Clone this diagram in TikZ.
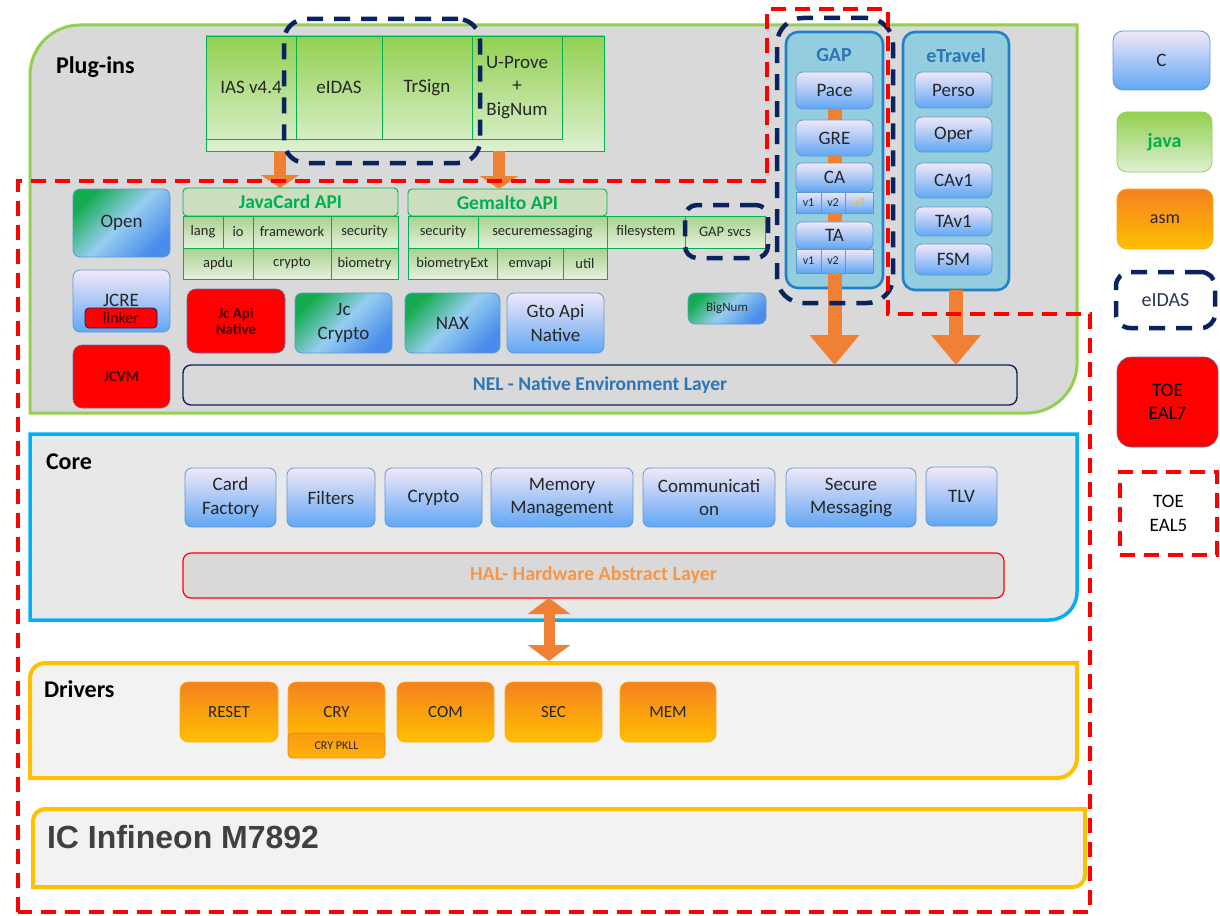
\documentclass[tikz,border=0pt]{standalone}
\usepackage{fontspec}
\setmainfont{Carlito}
\newfontfamily\arialf{Liberation Sans}
\usetikzlibrary{arrows.meta}
\definecolor{txt}{RGB}{38,38,38}
\definecolor{plugfill}{RGB}{217,217,217}
\definecolor{plugline}{RGB}{146,208,80}
\definecolor{corefill}{RGB}{232,232,232}
\definecolor{coreline}{RGB}{0,176,240}
\definecolor{drvfill}{RGB}{242,242,242}
\definecolor{drvline}{RGB}{255,192,0}
\definecolor{navy}{RGB}{10,35,95}
\definecolor{toered}{RGB}{255,0,0}
\definecolor{orA}{RGB}{240,128,52}
\definecolor{cTop}{RGB}{242,232,248}
\definecolor{cBot}{RGB}{96,166,244}
\definecolor{cLine}{RGB}{91,155,213}
\definecolor{gTop}{RGB}{146,208,80}
\definecolor{gBot}{RGB}{222,240,210}
\definecolor{gLine}{RGB}{0,176,80}
\definecolor{cellTop}{RGB}{169,209,142}
\definecolor{cellBot}{RGB}{228,241,220}
\definecolor{hdrFill}{RGB}{204,222,190}
\definecolor{aTop}{RGB}{245,128,32}
\definecolor{aBot}{RGB}{255,192,0}
\definecolor{dA}{RGB}{20,172,80}
\definecolor{dB}{RGB}{150,205,240}
\definecolor{dC}{RGB}{72,140,236}
\definecolor{gapFill}{RGB}{147,205,222}
\definecolor{gapLine}{RGB}{30,130,200}
\definecolor{tblue}{RGB}{46,117,182}
\definecolor{halor}{RGB}{247,150,70}
\definecolor{darkred}{RGB}{70,0,0}
\definecolor{redline}{RGB}{90,120,170}
\definecolor{icgray}{RGB}{64,64,64}
\definecolor{v3col}{RGB}{255,192,0}
\newcommand\fsz[2]{\fontsize{#1}{#2}\selectfont}
\newcommand\bx[7]{\node[#1, minimum width={#5-#3}, minimum height={#6-#4}] (#2) at ({(#3+#5)/2},{(#4+#6)/2}) {#7};}
\tikzset{
 every node/.style={inner sep=0pt, outer sep=0pt, align=center, text=txt, font=\fsz{19}{23.5}},
 cbox/.style={rounded corners=7pt, draw=cLine, line width=0.8pt, top color=cTop, bottom color=cBot},
 csq/.style={draw=cLine, line width=0.8pt, top color=cTop, bottom color=cBot},
 dbox/.style={rounded corners=7pt, draw=cLine, line width=0.8pt, top color=dA, bottom color=dC, middle color=dB, shading angle=45},
 rbox/.style={rounded corners=9pt, fill=toered, draw=redline, line width=0.6pt},
 abox/.style={rounded corners=8pt, top color=aTop, bottom color=aBot, draw=aBot!70!aTop, line width=0.6pt, font=\fsz{17}{20}},
 jcell/.style={draw=gLine, line width=0.9pt, top color=cellTop, bottom color=cellBot, font=\fsz{14.5}{17}},
 jhdr/.style={draw=gLine, line width=0.9pt, fill=hdrFill, rounded corners=4pt, text=gLine, font=\bfseries\fsz{19.5}{22}},
 pcell/.style={draw=gLine, line width=0.8pt},
 panel/.style={line width=3pt},
 inpanel/.style={rounded corners=12pt, fill=gapFill, draw=gapLine, line width=2.6pt},
 navydash/.style={draw=navy, line width=4.5pt, dash pattern=on 16pt off 11pt, rounded corners=22pt},
 toedash/.style={draw=toered, line width=3.5pt, dash pattern=on 15pt off 9pt},
 blkarrow/.style={draw=orA, line width=14pt, -{Triangle[width=48pt,length=30pt]}},
 smarrow/.style={draw=orA, line width=12pt, -{Triangle[width=38pt,length=13pt]}},
 dblarrow/.style={draw=orA, line width=11pt, {Triangle[width=42pt,length=16pt]}-{Triangle[width=42pt,length=16pt]}},
 orbar/.style={draw=orA, line width=14pt},
 plabel/.style={anchor=west, text=black, font=\bfseries\fsz{24}{26}},
 ptitle/.style={text=tblue, font=\bfseries\fsz{20}{22}},
 layer/.style={rounded corners=8pt, fill=plugfill},
}
\begin{document}
\begin{tikzpicture}[x=1pt,y=-1pt]
\useasboundingbox (0,0) rectangle (1220,915);
\fill[white] (0,0) rectangle (1220,915);

% ---------- panels ----------
\draw[panel, draw=plugline, fill=plugfill] (30,413) -- (30,75) .. controls (30,47.4) and (52.4,25) .. (80,25) -- (1077,25) -- (1077,363) .. controls (1077,390.6) and (1054.6,413) .. (1027,413) -- cycle;
\draw[panel, line width=3.5pt, draw=coreline, fill=corefill] (30,434) -- (1077,434) -- (1077,592) .. controls (1077,607.5) and (1064.5,620) .. (1049,620) -- (30,620) -- cycle;
\draw[panel, line width=4pt, draw=drvline, fill=drvfill] (30,678) .. controls (30,669.7) and (36.7,663) .. (45,663) -- (1077,663) -- (1077,758) .. controls (1077,769) and (1068,778) .. (1057,778) -- (30,778) -- cycle;
\draw[panel, line width=4pt, draw=drvline, fill=drvfill] (33,821) .. controls (33,814.4) and (38.4,809) .. (45,809) -- (1085,809) -- (1085,875) .. controls (1085,881.6) and (1079.6,887) .. (1073,887) -- (33,887) -- cycle;
\coordinate (drvtop) at (549,661);

\node[plabel] (lplug) at (56,67) {Plug-ins};
\node[plabel] (lcore) at (46,462) {Core};
\node[plabel] (ldrv) at (44,689) {Drivers};

% ---------- plug-in top box ----------
\bx{pcell, top color=gTop, bottom color=gBot}{tb}{206}{36}{604}{151}{}
\bx{pcell}{ias}{206}{36}{296}{139}{IAS v4.4}
\bx{pcell}{eidas}{296}{36}{382}{139}{eIDAS}
\bx{pcell}{trsign}{382}{36}{472}{139}{TrSign}
\bx{pcell}{uprove}{472}{36}{562}{139}{U-Prove\\+\\BigNum}

% ---------- JavaCard API ----------
\bx{jhdr}{jch}{183}{188}{398}{216}{JavaCard API}
\bx{jcell}{lang}{183}{216}{223}{248}{lang}
\bx{jcell}{io}{223}{216}{253}{248}{io}
\bx{jcell}{fw}{253}{216}{331}{248}{framework}
\bx{jcell}{jsec}{331}{216}{398}{248}{security}
\bx{jcell}{apdu}{183}{248}{253}{279}{apdu}
\bx{jcell}{jcry}{253}{248}{331}{279}{crypto}
\bx{jcell}{biom}{331}{248}{398}{279}{biometry}

% ---------- Gemalto API ----------
\bx{jhdr}{gh}{408}{189}{607}{216}{Gemalto API}
\bx{jcell}{gsec}{408}{216}{478}{248}{security}
\bx{jcell}{smsg}{478}{216}{607}{248}{securemessaging}
\bx{jcell}{fsys}{607}{216}{685}{248}{filesystem}
\bx{jcell}{gsvc}{685}{216}{765}{248}{GAP svcs}
\bx{jcell}{bioext}{408}{248}{497}{279}{biometryExt}
\bx{jcell}{emv}{497}{248}{563}{279}{emvapi}
\bx{jcell}{util}{563}{248}{607}{279}{util}

% ---------- left column and natives ----------
\bx{dbox}{open}{73}{189}{170}{257}{Open}
\bx{cbox}{jcre}{73}{270}{170}{332}{}
\node (jcrel) at (121,300) {JCRE};
\bx{rbox, rounded corners=4pt, draw=navy, line width=0.8pt, text=darkred, font=\fsz{16}{18}}{linker}{85}{308}{157}{328}{linker}
\bx{rbox, text=darkred, font=\bfseries\fsz{15}{17}}{jcvm}{73}{345}{170}{408}{JCVM}
\bx{rbox, text=darkred, font=\bfseries\fsz{15}{16}}{jcapin}{187}{289}{285}{353}{Jc Api\\Native}
\bx{dbox}{jccry}{295}{293}{392}{353}{Jc\\Crypto}
\bx{dbox}{nax}{405}{293}{500}{353}{NAX}
\bx{cbox}{gtoapi}{507}{293}{604}{353}{Gto Api\\Native}
\bx{dbox, font=\fsz{13}{15}}{bignum}{688}{293}{766}{324}{BigNum}
\bx{layer, draw=navy, line width=1.4pt, text=tblue, font=\bfseries\fsz{19.5}{22}}{nel}{183}{365}{1017}{405}{NEL - Native Environment Layer}

% ---------- GAP ----------
\bx{inpanel}{gap}{786}{32}{883}{288}{}
\node[ptitle] (gapt) at (834,55) {GAP};
\bx{cbox}{pace}{796}{72}{873}{109}{Pace}
\bx{cbox}{gre}{796}{120}{873}{156}{GRE}
\bx{cbox, rounded corners=5pt}{ca}{796}{163}{873}{192}{CA}
\bx{csq, font=\fsz{12}{14}}{cav1}{796}{192}{821}{213}{v1}
\bx{csq, font=\fsz{12}{14}}{cav2}{821}{192}{845}{213}{v2}
\bx{csq, font=\fsz{12}{14}, text=v3col}{cav3}{845}{192}{873}{213}{v3}
\bx{cbox, rounded corners=5pt}{ta}{796}{222}{873}{249}{TA}
\bx{csq, font=\fsz{12}{14}}{tav1}{796}{249}{821}{273}{v1}
\bx{csq, font=\fsz{12}{14}}{tav2}{821}{249}{845}{273}{v2}
\bx{csq}{tav3}{845}{249}{873}{273}{}
\draw[orbar] (pace.south) -- (gre.north);
\draw[orbar] (gre.south) -- (ca.north);
\draw[orbar] (ca.south |- cav2.south) -- (ta.north);

% ---------- eTravel ----------
\bx{inpanel}{etr}{903}{32}{1009}{290}{}
\node[ptitle] (etrt) at (956,56) {eTravel};
\bx{cbox}{perso}{915}{72}{992}{108}{Perso}
\bx{cbox}{oper}{915}{117}{992}{152}{Oper}
\bx{cbox}{cav}{915}{163}{992}{198}{CAv1}
\bx{cbox}{tav}{915}{207}{992}{236}{TAv1}
\bx{cbox}{fsm}{915}{244}{992}{275}{FSM}

% ---------- Core ----------
\bx{cbox}{cf}{185}{468}{276}{527}{Card\\Factory}
\bx{cbox}{filt}{287}{468}{375}{527}{Filters}
\bx{cbox}{ccry}{385}{468}{482}{527}{Crypto}
\bx{cbox}{mem}{491}{468}{633}{527}{Memory\\Management}
\bx{cbox}{comm}{643}{468}{775}{527}{Communicati\\on}
\bx{cbox}{secm}{786}{468}{916}{527}{Secure\\Messaging}
\bx{cbox}{tlv}{926}{467}{997}{526}{TLV}
\bx{layer, draw=toered, line width=1.2pt, text=halor, font=\bfseries\fsz{20}{22}}{hal}{183}{553}{1004}{598}{HAL- Hardware Abstract Layer}

% ---------- Drivers ----------
\bx{abox}{reset}{180}{682}{278}{742}{RESET}
\bx{abox}{cry}{288}{682}{385}{742}{CRY}
\bx{abox, rounded corners=4pt, top color=aTop!60!aBot, bottom color=aBot!80!aTop, draw=aTop, font=\fsz{12}{14}}{pkll}{288}{733}{385}{758}{CRY PKLL}
\bx{abox}{com}{397}{682}{494}{742}{COM}
\bx{abox}{sec}{505}{682}{602}{742}{SEC}
\bx{abox}{memd}{620}{682}{716}{742}{MEM}

% ---------- IC ----------
\node[anchor=west, text=icgray, font=\arialf\bfseries\fsz{32}{34}] (ic) at (47,837) {IC Infineon M7892};

% ---------- arrows ----------
\coordinate (xa) at (280,0);
\coordinate (xb) at (499,0);
\coordinate (xc) at (549,0);
\draw[smarrow] (tb.south -| xa) -- (jch.north -| xa);
\draw[smarrow] (tb.south -| xb) -- (gh.north -| xb);
\draw[blkarrow] (ta.south |- tav2.south) -- (nel.north -| ta.south);
\draw[blkarrow] (etr.south) -- (nel.north -| etr.south);
\draw[dblarrow] (hal.south -| xc) -- (drvtop);

% ---------- legend ----------
\bx{cbox, rounded corners=10pt}{lc}{1113}{31}{1210}{90}{C}
\bx{rounded corners=10pt, draw=gTop, line width=0.8pt, top color=gTop, bottom color=gBot, text=gLine, font=\bfseries\fsz{20}{22}}{lj}{1117}{112}{1212}{172}{java}
\bx{abox, rounded corners=10pt, font=\fsz{18}{20}}{la}{1117}{189}{1213}{249}{asm}
\bx{navydash, rounded corners=14pt, text={rgb,255:red,40;green,55;blue,85}, font=\fsz{20}{22}}{le}{1116}{272}{1215}{328}{eIDAS}
\bx{rbox, rounded corners=14pt, text=black}{l7}{1117}{357}{1218}{447}{TOE\\EAL7}
\bx{toedash, text=black}{l5}{1120}{472}{1217}{555}{TOE\\EAL5}

% ---------- dashed groupings ----------
\bx{navydash}{eidasgrp}{284}{19}{480}{163}{}
\bx{navydash, rounded corners=12pt}{gapsvcgrp}{685}{205}{768}{258}{}
\bx{navydash, rounded corners=26pt}{gapgrp}{777}{18}{893}{303}{}
\draw[toedash] (18,912) -- (18,181) -- (767,181) -- (767,9) -- (888,9) -- (888,314) -- (1090,314) -- (1090,912) -- cycle;
\end{tikzpicture}
\end{document}
